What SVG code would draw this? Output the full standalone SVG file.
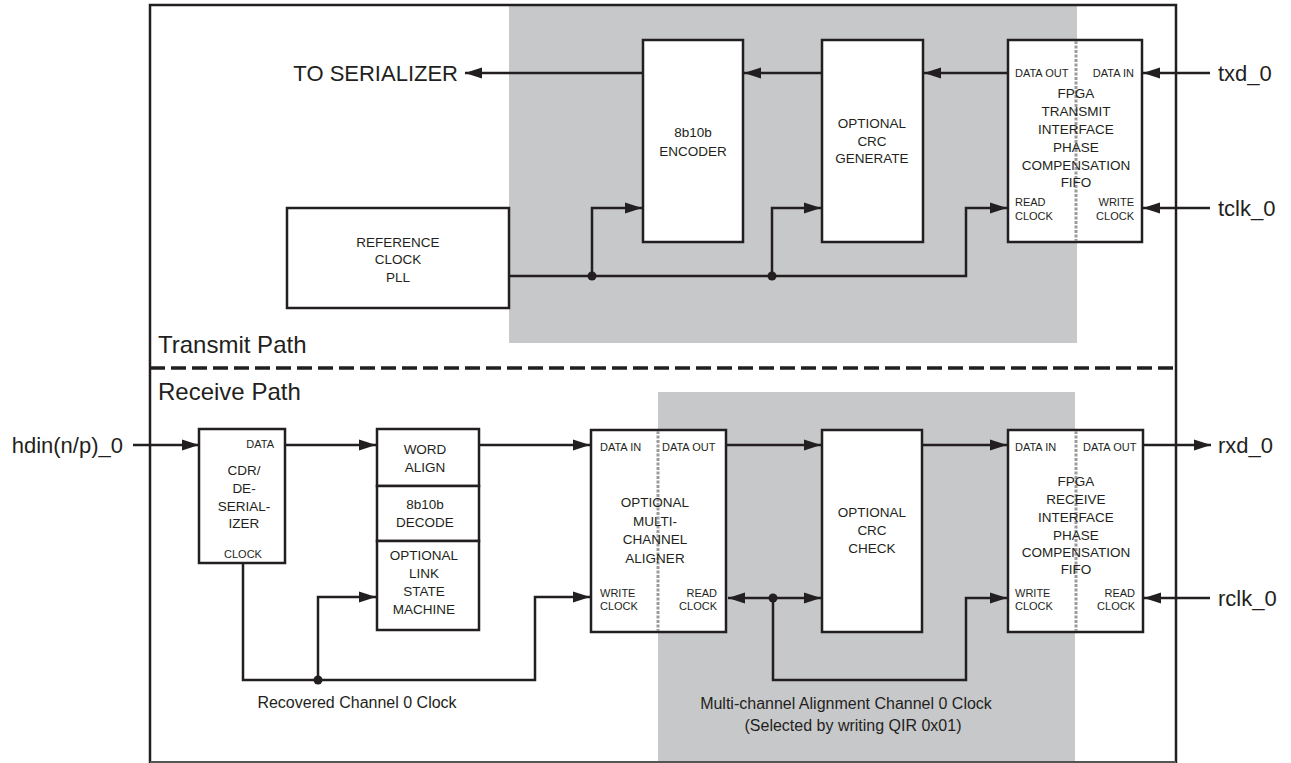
<svg xmlns="http://www.w3.org/2000/svg" width="1291" height="763" viewBox="0 0 1291 763">
  <style>
    .shade { fill: #c7c8ca; }
    .frame { fill: none; stroke: #231f20; stroke-width: 2.5; }
    .box { fill: #ffffff; stroke: #231f20; stroke-width: 2.5; }
    .wire { fill: none; stroke: #231f20; stroke-width: 2.5; }
    .split { stroke: #9b9b9b; stroke-width: 3; stroke-dasharray: 3 1.5; }
    .dot { fill: #231f20; }
    text { font-family: "Liberation Sans", Arial, sans-serif; fill: #231f20; }
    .big { font-size: 24px; }
    .io { font-size: 22px; }
    .blk { font-size: 13.5px; text-anchor: middle; }
    .lbl { font-size: 11px; }
    .note { font-size: 16px; text-anchor: middle; }
  </style>
  <defs>
    <marker id="arrow" markerUnits="userSpaceOnUse" markerWidth="18" markerHeight="14" refX="17" refY="7" orient="auto-start-reverse">
      <path d="M0,1.5 L17,7 L0,12.5 Z" fill="#231f20"/>
    </marker>
  </defs>

  <!-- background and shaded regions -->
  <rect x="0" y="0" width="1291" height="763" fill="#ffffff"/>
  <rect class="shade" x="509" y="5" width="568" height="338"/>
  <rect class="shade" x="658" y="392" width="417" height="371"/>

  <!-- outer frame and transmit/receive divider -->
  <g id="frame">
    <path class="frame" d="M150,763 L150,5 L1176,5 L1176,763"/>
    <line x1="150" y1="762" x2="1176" y2="762" stroke="#555555" stroke-width="2"/>
    <line x1="150" y1="368" x2="1176" y2="368" stroke="#231f20" stroke-width="3.5" stroke-dasharray="15 6"/>
    <text class="big" x="158" y="353">Transmit Path</text>
    <text class="big" x="158" y="400">Receive Path</text>
  </g>

  <!-- connectors -->
  <g id="connectors">
    <!-- transmit data path -->
    <line class="wire" x1="1210" y1="73" x2="1143" y2="73" marker-end="url(#arrow)"/>
    <line class="wire" x1="1008" y1="73" x2="924" y2="73" marker-end="url(#arrow)"/>
    <line class="wire" x1="822" y1="73" x2="744" y2="73" marker-end="url(#arrow)"/>
    <line class="wire" x1="643" y1="73" x2="465" y2="73" marker-end="url(#arrow)"/>
    <!-- transmit clocks -->
    <line class="wire" x1="1210" y1="208" x2="1143" y2="208" marker-end="url(#arrow)"/>
    <path class="wire" d="M509,276 L966,276 L966,208 L1007,208" marker-end="url(#arrow)"/>
    <path class="wire" d="M592,276 L592,208 L642,208" marker-end="url(#arrow)"/>
    <path class="wire" d="M772,276 L772,208 L821,208" marker-end="url(#arrow)"/>
    <circle class="dot" cx="592" cy="276" r="4.5"/>
    <circle class="dot" cx="772" cy="276" r="4.5"/>

    <!-- receive data path -->
    <line class="wire" x1="133" y1="445" x2="199" y2="445" marker-end="url(#arrow)"/>
    <line class="wire" x1="285" y1="445" x2="376" y2="445" marker-end="url(#arrow)"/>
    <line class="wire" x1="479" y1="445" x2="590" y2="445" marker-end="url(#arrow)"/>
    <line class="wire" x1="727" y1="445" x2="821" y2="445" marker-end="url(#arrow)"/>
    <line class="wire" x1="922" y1="445" x2="1007" y2="445" marker-end="url(#arrow)"/>
    <line class="wire" x1="1143" y1="445" x2="1211" y2="445" marker-end="url(#arrow)"/>
    <!-- recovered clock -->
    <path class="wire" d="M243,563 L243,680 L535,680 L535,597 L590,597" marker-end="url(#arrow)"/>
    <path class="wire" d="M318,680 L318,597 L376,597" marker-end="url(#arrow)"/>
    <circle class="dot" cx="318" cy="680" r="4.5"/>
    <!-- alignment clock -->
    <line class="wire" x1="773" y1="598" x2="728" y2="598" marker-end="url(#arrow)"/>
    <line class="wire" x1="773" y1="598" x2="821" y2="598" marker-end="url(#arrow)"/>
    <path class="wire" d="M773,598 L773,680 L966,680 L966,598 L1007,598" marker-end="url(#arrow)"/>
    <circle class="dot" cx="773" cy="598" r="4.5"/>
    <line class="wire" x1="1210" y1="598" x2="1144" y2="598" marker-end="url(#arrow)"/>
  </g>

  <!-- external signal labels -->
  <g id="ports">
    <text class="io" x="458" y="81" text-anchor="end">TO SERIALIZER</text>
    <text class="io" x="1218" y="81">txd_0</text>
    <text class="io" x="1218" y="216">tclk_0</text>
    <text class="io" x="1218" y="453">rxd_0</text>
    <text class="io" x="1218" y="606">rclk_0</text>
    <text class="io" x="123" y="453" text-anchor="end">hdin(n/p)_0</text>
    <text class="note" x="357" y="708">Recovered Channel 0 Clock</text>
    <text class="note" x="846" y="709">Multi-channel Alignment Channel 0 Clock</text>
    <text class="note" x="853" y="731">(Selected by writing QIR 0x01)</text>
  </g>

  <!-- transmit blocks -->
  <g id="ref-clock-pll">
    <rect class="box" x="287" y="208" width="222" height="100"/>
    <text class="blk" x="398" y="247">REFERENCE</text>
    <text class="blk" x="398" y="264">CLOCK</text>
    <text class="blk" x="398" y="282">PLL</text>
  </g>
  <g id="encoder">
    <rect class="box" x="643" y="40" width="100" height="202"/>
    <text class="blk" x="693" y="137">8b10b</text>
    <text class="blk" x="693" y="156">ENCODER</text>
  </g>
  <g id="crc-generate">
    <rect class="box" x="822" y="40" width="101" height="202"/>
    <text class="blk" x="872" y="128">OPTIONAL</text>
    <text class="blk" x="872" y="146">CRC</text>
    <text class="blk" x="872" y="163">GENERATE</text>
  </g>
  <g id="tx-fifo">
    <rect class="box" x="1008" y="40" width="134" height="202"/>
    <line class="split" x1="1076" y1="41" x2="1076" y2="241"/>
    <text class="lbl" x="1015" y="77">DATA OUT</text>
    <text class="lbl" x="1134" y="77" text-anchor="end">DATA IN</text>
    <text class="blk" x="1076" y="98">FPGA</text>
    <text class="blk" x="1076" y="116">TRANSMIT</text>
    <text class="blk" x="1076" y="134">INTERFACE</text>
    <text class="blk" x="1076" y="152">PHASE</text>
    <text class="blk" x="1076" y="170">COMPENSATION</text>
    <text class="blk" x="1076" y="187">FIFO</text>
    <text class="lbl" x="1015" y="206">READ</text>
    <text class="lbl" x="1015" y="220">CLOCK</text>
    <text class="lbl" x="1134" y="206" text-anchor="end">WRITE</text>
    <text class="lbl" x="1134" y="220" text-anchor="end">CLOCK</text>
  </g>

  <!-- receive blocks -->
  <g id="cdr">
    <rect class="box" x="199" y="429" width="86" height="134"/>
    <text class="lbl" x="274" y="448" text-anchor="end">DATA</text>
    <text class="blk" x="244" y="475">CDR/</text>
    <text class="blk" x="244" y="493">DE-</text>
    <text class="blk" x="244" y="511">SERIAL-</text>
    <text class="blk" x="244" y="528">IZER</text>
    <text class="lbl" x="243" y="558" text-anchor="middle">CLOCK</text>
  </g>
  <g id="word-align">
    <rect class="box" x="377" y="429" width="102" height="57"/>
    <text class="blk" x="425" y="454">WORD</text>
    <text class="blk" x="425" y="472">ALIGN</text>
  </g>
  <g id="decode">
    <rect class="box" x="377" y="486" width="102" height="55"/>
    <text class="blk" x="425" y="509">8b10b</text>
    <text class="blk" x="425" y="527">DECODE</text>
  </g>
  <g id="link-state-machine">
    <rect class="box" x="377" y="541" width="102" height="89"/>
    <text class="blk" x="424" y="560">OPTIONAL</text>
    <text class="blk" x="424" y="578">LINK</text>
    <text class="blk" x="424" y="596">STATE</text>
    <text class="blk" x="424" y="614">MACHINE</text>
  </g>
  <g id="aligner">
    <rect class="box" x="591" y="430" width="135" height="202"/>
    <line class="split" x1="658" y1="431" x2="658" y2="631"/>
    <text class="lbl" x="600" y="451">DATA IN</text>
    <text class="lbl" x="662" y="451">DATA OUT</text>
    <text class="blk" x="655" y="507">OPTIONAL</text>
    <text class="blk" x="655" y="526">MULTI-</text>
    <text class="blk" x="655" y="544">CHANNEL</text>
    <text class="blk" x="655" y="563">ALIGNER</text>
    <text class="lbl" x="600" y="597">WRITE</text>
    <text class="lbl" x="600" y="610">CLOCK</text>
    <text class="lbl" x="717" y="597" text-anchor="end">READ</text>
    <text class="lbl" x="717" y="610" text-anchor="end">CLOCK</text>
  </g>
  <g id="crc-check">
    <rect class="box" x="822" y="430" width="100" height="202"/>
    <text class="blk" x="872" y="517">OPTIONAL</text>
    <text class="blk" x="872" y="535">CRC</text>
    <text class="blk" x="872" y="553">CHECK</text>
  </g>
  <g id="rx-fifo">
    <rect class="box" x="1008" y="430" width="135" height="202"/>
    <line class="split" x1="1076" y1="431" x2="1076" y2="631"/>
    <text class="lbl" x="1015" y="451">DATA IN</text>
    <text class="lbl" x="1083" y="451">DATA OUT</text>
    <text class="blk" x="1076" y="486">FPGA</text>
    <text class="blk" x="1076" y="504">RECEIVE</text>
    <text class="blk" x="1076" y="522">INTERFACE</text>
    <text class="blk" x="1076" y="540">PHASE</text>
    <text class="blk" x="1076" y="557">COMPENSATION</text>
    <text class="blk" x="1076" y="574">FIFO</text>
    <text class="lbl" x="1015" y="597">WRITE</text>
    <text class="lbl" x="1015" y="610">CLOCK</text>
    <text class="lbl" x="1135" y="597" text-anchor="end">READ</text>
    <text class="lbl" x="1135" y="610" text-anchor="end">CLOCK</text>
  </g>
</svg>
